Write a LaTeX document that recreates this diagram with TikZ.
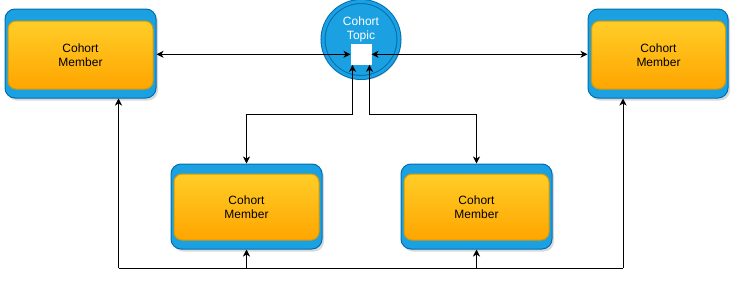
\documentclass[tikz,border=0pt]{standalone}
\usepackage{fontspec}
\setmainfont{Liberation Sans}
\usetikzlibrary{arrows.meta,shadows}

\definecolor{cellblue}{HTML}{1BA1E2}
\definecolor{celledge}{HTML}{006EAF}
\definecolor{ambertop}{HTML}{FFCD28}
\definecolor{amberbot}{HTML}{FFA500}
\definecolor{amberedge}{HTML}{D79B00}

\begin{document}
\begin{tikzpicture}[x=1pt,y=-1pt,line width=1pt,
	shell/.style={draw=celledge,fill=cellblue,rounded corners=10pt,inner sep=0pt,
		drop shadow={shadow xshift=2pt,shadow yshift=-2.5pt,opacity=.3}},
	core/.style={draw=amberedge,top color=ambertop,bottom color=amberbot,rounded corners=8pt,
		inner sep=0pt,align=center,font=\fontsize{12}{14}\selectfont},
	link/.style={-{Stealth[length=7pt,width=7pt,inset=2pt]}},
	both/.style={{Stealth[length=7pt,width=7pt,inset=2pt]}-{Stealth[length=7pt,width=7pt,inset=2pt]}}]
	\useasboundingbox (0,0) rectangle (745,295);

	% members
	\node[shell,minimum width=151pt,minimum height=89pt] (memA) at (80.5,53.5) {};
	\node[core,minimum width=145pt,minimum height=68pt] (memAin) at (80.5,55) {Cohort\\Member};
	\node[shell,minimum width=140pt,minimum height=89pt] (memB) at (658,53.5) {};
	\node[core,minimum width=134pt,minimum height=68pt] (memBin) at (658.5,55) {Cohort\\Member};
	\node[shell,minimum width=151pt,minimum height=85pt] (memC) at (246.5,206.5) {};
	\node[core,minimum width=145pt,minimum height=66pt] (memCin) at (246.5,207) {Cohort\\Member};
	\node[shell,minimum width=151pt,minimum height=85pt] (memD) at (476.5,206.5) {};
	\node[core,minimum width=145pt,minimum height=66pt] (memDin) at (476.5,207) {Cohort\\Member};

	% topic with its port
	\node[circle,draw=celledge,double=cellblue,double distance=3pt,fill=cellblue,minimum size=76pt,inner sep=0pt,
		drop shadow={shadow xshift=2pt,shadow yshift=-2.5pt,opacity=.3}] (topic) at (361,39.5) {};
	\node[white,align=center,font=\fontsize{12}{14}\selectfont] (topiclbl) at (361,29) {Cohort\\Topic};
	\node[fill=white,draw=white,line width=.5pt,minimum size=20.5pt,inner sep=0pt] (port) at (361,54.3) {};

	% links to the topic
	\draw[both] (memA.east |- port) -- (port.west);
	\draw[both] (port.east) -- (memB.west |- port);
	\draw[both] ([xshift=-8.5pt]port.south) |- (memC.north |- 0,114) -- (memC.north);
	\draw[both] ([xshift=8.5pt]port.south) |- (memD.north |- 0,114) -- (memD.north);

	% bus along the bottom
	\coordinate (tapA) at ([xshift=38pt]memA.south);
	\coordinate (tapB) at ([xshift=-35pt]memB.south);
	\draw (tapA |- 0,268) -- (tapB |- 0,268);
	\draw[link] (tapA |- 0,268) -- (tapA);
	\draw[link] (memC.south |- 0,268) -- (memC.south);
	\draw[link] (memD.south |- 0,268) -- (memD.south);
	\draw[link] (tapB |- 0,268) -- (tapB);

\end{tikzpicture}
\end{document}
